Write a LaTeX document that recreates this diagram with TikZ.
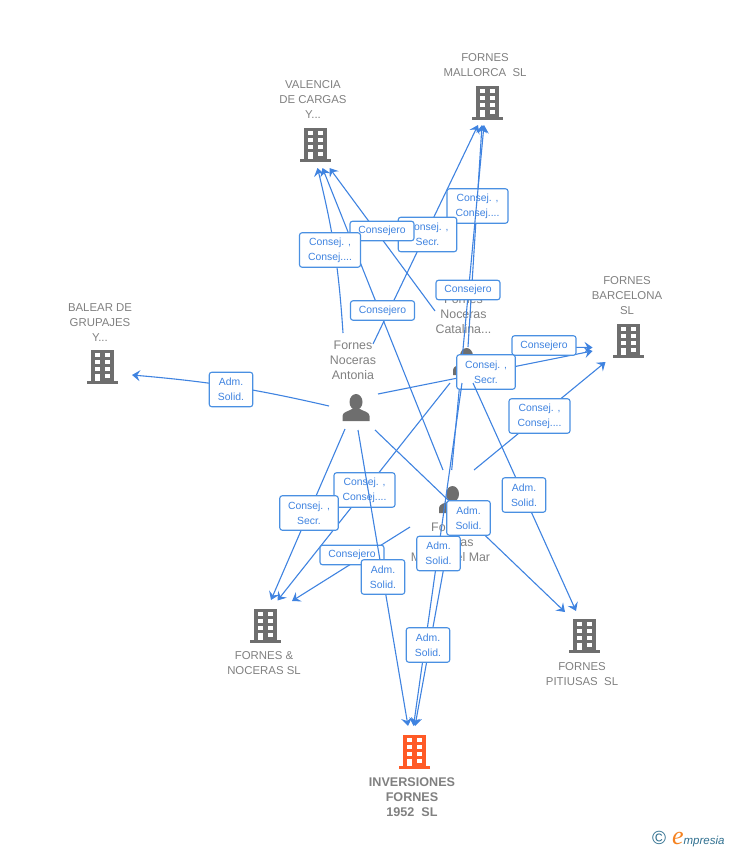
\documentclass[tikz,border=0pt]{standalone}
\usepackage{fontspec}
\setmainfont{Liberation Sans}
\usepackage{tikz}
\usetikzlibrary{arrows.meta}
\definecolor{linkblue}{HTML}{3F83E0}
\definecolor{boxblue}{HTML}{4A90E2}
\definecolor{firmgrey}{HTML}{6E6E6E}
\definecolor{textgrey}{HTML}{808080}
\definecolor{rootred}{HTML}{FF5A26}
\definecolor{logoteal}{HTML}{2F6F8F}
\definecolor{logoorange}{HTML}{F58220}
\tikzstyle{firmbox} = [inner sep=0pt, minimum width=31pt, minimum height=34pt]
\tikzstyle{firmtext} = [text=textgrey, align=center, inner sep=0pt,
    font=\fontsize{11.4}{15}\selectfont]
\tikzstyle{roottext} = [text=textgrey, align=center, inner sep=0pt,
    font=\fontsize{12.6}{15}\selectfont\bfseries]
\tikzstyle{persontext} = [text=textgrey, align=center, inner sep=0pt,
    font=\fontsize{12.4}{15}\selectfont]
\tikzstyle{lbl} = [rectangle, draw=boxblue, fill=white, text=linkblue, align=center,
    rounded corners=2.5pt, line width=1.1pt, inner sep=0pt, minimum height=34.5pt,
    font=\fontsize{10.4}{15}\selectfont]
\tikzstyle{cons} = [lbl, minimum width=64pt, minimum height=19.5pt]
\tikzstyle{adm} = [lbl, minimum width=43.5pt]
\tikzstyle{two} = [lbl, minimum width=61pt]
\tikzstyle{sec} = [lbl, minimum width=58.5pt]
\tikzset{
  firm/.pic={
    \fill (-11.5,-17) rectangle (11.5,17);
    \fill (-15.5,14) rectangle (15.5,17);
    \foreach \r in {-14,-7,0} {
      \fill[white] (-7.5,\r) rectangle +(5,4);
      \fill[white] (2.5,\r) rectangle +(5,4);
    }
    \fill[white] (-7.5,7) rectangle (-2.5,14);
    \fill[white] (2.5,7) rectangle +(5,4);
  },
  person/.pic={
    \fill (0,-6) ellipse (6.5 and 8);
    \fill (-13.5,13) -- (-13.5,8) .. controls (-13.5,4) and (-8,3.5) .. (-4,1)
      -- (4,1) .. controls (8,3.5) and (13.5,4) .. (13.5,8) -- (13.5,13) -- cycle;
  }
}
\begin{document}
\begin{tikzpicture}[x=1pt,y=-1pt,->,>={Stealth[length=8pt,width=11pt,inset=3pt]},
                    line width=1.1pt,draw=linkblue]
  \useasboundingbox (0,0) rectangle (728,850);

  % companies
  \node[firmbox] (valencia) at (315.5,145) {};
  \node[firmbox] (mallorca) at (487,103) {};
  \node[firmbox] (barcelona) at (628.5,340.5) {};
  \node[firmbox] (balear) at (102.5,367) {};
  \node[firmbox] (noceras) at (265.5,626) {};
  \node[firmbox] (pitiusas) at (584,636) {};
  \node[firmbox] (inversiones) at (414,752) {};
  \pic[firmgrey] at (valencia) {firm};
  \pic[firmgrey] at (mallorca) {firm};
  \pic[firmgrey] at (barcelona) {firm};
  \pic[firmgrey] at (balear) {firm};
  \pic[firmgrey] at (noceras) {firm};
  \pic[firmgrey] at (pitiusas) {firm};
  \pic[rootred] at (inversiones) {firm};

  \node[firmtext] (valenciat) at (313,99.5) {VALENCIA\\DE CARGAS\\Y...};
  \node[firmtext] (mallorcat) at (485,65) {FORNES\\MALLORCA\ \ SL};
  \node[firmtext] (barcelonat) at (627,295.5) {FORNES\\BARCELONA\\SL};
  \node[firmtext] (baleart) at (100,322.5) {BALEAR DE\\GRUPAJES\\Y...};
  \node[firmtext] (nocerast) at (264,663) {FORNES \&\\NOCERAS SL};
  \node[firmtext] (pitiusast) at (582,674) {FORNES\\PITIUSAS\ \ SL};
  \node[roottext] (inversionest) at (412,797) {INVERSIONES\\FORNES\\1952\ \ SL};

  % people
  \node[firmbox] (antonia) at (356,408) {};
  \node[firmbox] (catalina) at (466.5,362) {};
  \node[firmbox] (mar) at (452.5,500) {};
  \pic[firmgrey] at (antonia) {person};
  \pic[firmgrey] at (catalina) {person};
  \pic[firmgrey] at (mar) {person};
  \node[persontext] (antoniat) at (353,360) {Fornes\\Noceras\\Antonia};
  \node[persontext] (catalinat) at (463.5,314) {Fornes\\Noceras\\Catalina...};
  \node[persontext] (mart) at (450.5,542) {Fornes\\Noceras\\Maria\ \ del Mar};

  % links under the upper boxes
  \path[draw] ([shift={(1.5,-15)}]catalina.center) -- ([shift={(-5,22)}]mallorca.center);
  \path[draw] ([shift={(17,-64)}]antonia.center) -- ([shift={(-9,22)}]mallorca.center);
  \path[draw] ([shift={(-31.5,-51)}]catalina.center) -- ([shift={(14,23)}]valencia.center);
  \path[draw] ([shift={(-9.5,-30)}]mar.center) -- ([shift={(7,23)}]valencia.center);
  \path[draw] ([shift={(-13,-75)}]antonia.center) to[bend right=5] ([shift={(2,23)}]valencia.center);
  \path[draw] ([shift={(-27,-2)}]antonia.center) to[bend right=4] ([shift={(29.5,8)}]balear.center);
  \path[draw] ([shift={(52,-15)}]catalina.center) -- ([shift={(-36,7)}]barcelona.center);
  \path[draw] ([shift={(22,-14)}]antonia.center) -- ([shift={(-36,10.5)}]barcelona.center);
  \path[draw] ([shift={(21.5,-30)}]mar.center) -- ([shift={(-23,21.5)}]barcelona.center);
  \node[two] (l1) at (477.5,206) {Consej. ,\\Consej....};
  \path[draw] ([shift={(-0.8,-30)}]mar.center) -- ([shift={(-3,22)}]mallorca.center);
  \node[sec] (l2) at (427.5,234.5) {Consej. ,\\Secr.};
  \node[cons] (l3) at (382,231) {Consejero};
  \node[two] (l4) at (330,250) {Consej. ,\\Consej....};
  \node[cons] (l5) at (382.5,310.5) {Consejero};
  \node[cons] (l6) at (468,290) {Consejero};
  \node[cons] (l7) at (544,345.5) {Consejero};
  \node[sec] (l8) at (486,372) {Consej. ,\\Secr.};
  \node[two] (l9) at (539.5,416) {Consej. ,\\Consej....};
  \node[adm] (l10) at (231,389.5) {Adm.\\Solid.};

  % links to the lower companies
  \path[draw] ([shift={(-16.5,21)}]catalina.center) -- ([shift={(12,-25.5)}]noceras.center);
  \node[two] (l11) at (364.5,490) {Consej. ,\\Consej....};
  \path[draw] ([shift={(-4.5,21)}]catalina.center) -- ([shift={(-0.5,-26)}]inversiones.center);
  \path[draw] ([shift={(6.5,21)}]catalina.center) -- ([shift={(-8,-25)}]pitiusas.center);
  \path[draw] ([shift={(19,22)}]antonia.center) -- ([shift={(-19,-24)}]pitiusas.center);
  \path[draw] ([shift={(-11,21)}]antonia.center) -- ([shift={(5.5,-26)}]noceras.center);
  \path[draw] ([shift={(-42.5,27)}]mar.center) -- ([shift={(26.5,-25)}]noceras.center);
  \node[cons] (l12) at (352,555) {Consejero};
  \path[draw] ([shift={(2,22)}]antonia.center) -- ([shift={(-6,-26)}]inversiones.center);
  \path[draw] ([shift={(0,20)}]mar.center) -- ([shift={(1,-26)}]inversiones.center);
  \node[adm] (l13) at (524,495) {Adm.\\Solid.};
  \node[sec] (l14) at (309,513) {Consej. ,\\Secr.};
  \node[adm] (l15) at (383,577) {Adm.\\Solid.};
  \node[adm] (l16) at (468.5,518) {Adm.\\Solid.};
  \node[adm] (l17) at (438.5,553.5) {Adm.\\Solid.};
  \node[adm] (l18) at (428,645) {Adm.\\Solid.};

  \node[inner sep=0pt, anchor=east] (logo) at (725,839)
    {\fontsize{19}{19}\selectfont\color{logoteal}\copyright\hspace{6pt}%
     {\fontspec{Liberation Serif}\itshape\fontsize{26}{26}\selectfont\color{logoorange}e}%
     {\itshape\fontsize{11.5}{12}\selectfont mpresia}};
\end{tikzpicture}
\end{document}
